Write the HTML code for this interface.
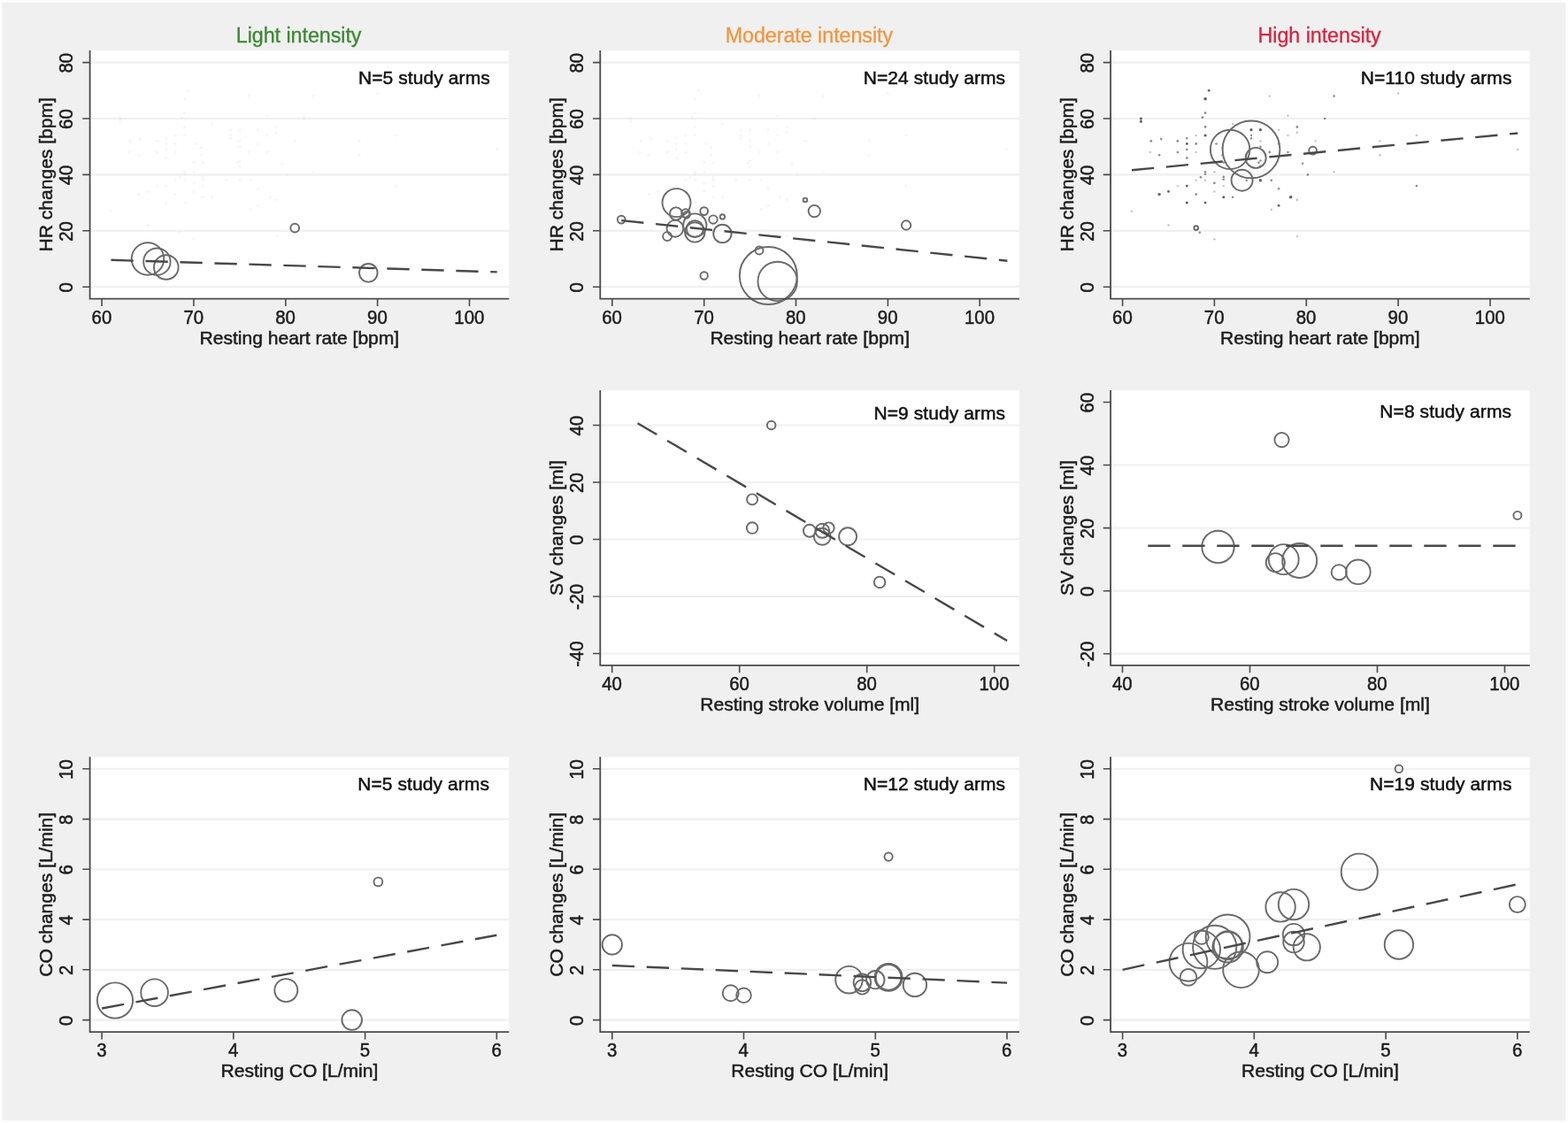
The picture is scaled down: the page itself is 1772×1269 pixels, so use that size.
<!DOCTYPE html>
<html lang="en">
<head>
<meta charset="utf-8">
<title>Resting values vs exercise-induced changes by intensity</title>
<style>
html,body{margin:0;padding:0;background:#fdfdfd;}
body{width:1772px;height:1269px;overflow:hidden;font-family:"Liberation Sans", Arial, Helvetica, sans-serif;}
svg{display:block;filter:blur(0.6px);}
svg text{font-family:"Liberation Sans", Arial, Helvetica, sans-serif;}
.pl{fill:#fff;}
.gr{fill:none;stroke:#f0f0f0;stroke-width:2.2;}
.gh circle{fill:#555;}
.dt circle{fill:#444;}
.bb circle{fill:none;stroke:#6a6a6a;stroke-width:1.9;}
.fit{stroke:#484848;stroke-width:2.4;stroke-dasharray:25.3 13.7;}
.ax{fill:none;stroke:#4a4a4a;stroke-width:1.8;}
.tm{fill:none;stroke:#4a4a4a;stroke-width:1.6;}
.tk{font-size:21.7px;text-anchor:middle;fill:#1c1c1c;stroke:#1c1c1c;stroke-width:0.5;}
.lb{font-size:21.1px;letter-spacing:-0.03px;text-anchor:middle;fill:#1c1c1c;stroke:#1c1c1c;stroke-width:0.5;}
.nt{font-size:21.0px;letter-spacing:0.08px;text-anchor:end;fill:#111;stroke:#111;stroke-width:0.5;}
.ti{font-size:23.3px;letter-spacing:-0.05px;text-anchor:middle;stroke-width:0.3;}
</style>
</head>
<body>
<svg width="1772" height="1269" viewBox="0 0 1772 1269" role="img" aria-label="Resting values versus exercise-induced changes by intensity">
<rect x="0" y="0" width="1772" height="1269" fill="#fdfdfd"/>
<rect x="2.4" y="2.7" width="1766.9" height="1263.5" fill="#f0f0f0"/>
<g>
<rect class="pl" x="101.6" y="57" width="473.7" height="280.6"/>
<path class="gr" d="M101.6 324.2H575.3M101.6 260.8H575.3M101.6 197.4H575.3M101.6 134H575.3M101.6 70.6H575.3"/>
<g class="gh" opacity="0.05">
<circle cx="135.9" cy="134" r="1.6"/><circle cx="135.9" cy="137.2" r="1.6"/><circle cx="212.7" cy="102.3" r="1.6"/><circle cx="208.6" cy="111.8" r="1.6"/><circle cx="208.6" cy="127.7" r="1.6"/><circle cx="205.4" cy="132.7" r="1.6"/><circle cx="208.6" cy="143.5" r="1.6"/><circle cx="208.6" cy="153" r="1.6"/><circle cx="198.2" cy="153" r="1.6"/><circle cx="187.8" cy="156.2" r="1.6"/><circle cx="187.8" cy="162.5" r="1.6"/><circle cx="187.8" cy="168.9" r="1.6"/><circle cx="187.8" cy="178.4" r="1.6"/><circle cx="198.2" cy="162.5" r="1.6"/><circle cx="198.2" cy="172" r="1.6"/><circle cx="177.4" cy="159.4" r="1.6"/><circle cx="177.4" cy="172" r="1.6"/><circle cx="158.7" cy="157.1" r="1.6"/><circle cx="147.3" cy="159.4" r="1.6"/><circle cx="146.3" cy="172" r="1.6"/><circle cx="156.6" cy="175.2" r="1.6"/><circle cx="281.3" cy="108.6" r="1.6"/><circle cx="302" cy="130.8" r="1.6"/><circle cx="312.4" cy="143.5" r="1.6"/><circle cx="312.4" cy="149.8" r="1.6"/><circle cx="302" cy="153" r="1.6"/><circle cx="291.6" cy="146.7" r="1.6"/><circle cx="291.6" cy="162.5" r="1.6"/><circle cx="260.5" cy="146.7" r="1.6"/><circle cx="270.9" cy="146.7" r="1.6"/><circle cx="260.5" cy="153" r="1.6"/><circle cx="260.5" cy="156.2" r="1.6"/><circle cx="270.9" cy="159.4" r="1.6"/><circle cx="270.9" cy="165.7" r="1.6"/><circle cx="281.3" cy="172" r="1.6"/><circle cx="302" cy="172" r="1.6"/><circle cx="239.7" cy="140.3" r="1.6"/><circle cx="221" cy="162.5" r="1.6"/><circle cx="227.3" cy="166.7" r="1.6"/><circle cx="227.3" cy="175.2" r="1.6"/><circle cx="229.3" cy="183.8" r="1.6"/><circle cx="218.9" cy="183.1" r="1.6"/><circle cx="268.8" cy="183.8" r="1.6"/><circle cx="270.9" cy="181.5" r="1.6"/><circle cx="270.9" cy="187.9" r="1.6"/><circle cx="318.6" cy="184.7" r="1.6"/><circle cx="324.4" cy="197.4" r="1.6"/><circle cx="208.6" cy="194.2" r="1.6"/><circle cx="208.6" cy="196.8" r="1.6"/><circle cx="218.9" cy="194.2" r="1.6"/><circle cx="203.4" cy="200.3" r="1.6"/><circle cx="198.2" cy="203.7" r="1.6"/><circle cx="208.6" cy="203.7" r="1.6"/><circle cx="218.9" cy="206.9" r="1.6"/><circle cx="229.3" cy="199.9" r="1.6"/><circle cx="229.3" cy="202.8" r="1.6"/><circle cx="229.3" cy="210.1" r="1.6"/><circle cx="255.3" cy="203.7" r="1.6"/><circle cx="270.9" cy="203.7" r="1.6"/><circle cx="283.3" cy="203.7" r="1.6"/><circle cx="177.4" cy="210.1" r="1.6"/><circle cx="187.8" cy="210.1" r="1.6"/><circle cx="291.6" cy="213.2" r="1.6"/><circle cx="156.6" cy="219.6" r="1.6"/><circle cx="167" cy="216.4" r="1.6"/><circle cx="198.2" cy="219.6" r="1.6"/><circle cx="218.9" cy="216.4" r="1.6"/><circle cx="229.3" cy="222.8" r="1.6"/><circle cx="239.7" cy="222.8" r="1.6"/><circle cx="187.8" cy="229.1" r="1.6"/><circle cx="208.6" cy="229.1" r="1.6"/><circle cx="305.1" cy="222.8" r="1.6"/><circle cx="312.4" cy="225.9" r="1.6"/><circle cx="291.6" cy="232.3" r="1.6"/><circle cx="283.3" cy="236.7" r="1.6"/><circle cx="125.5" cy="238.6" r="1.6"/><circle cx="167" cy="254.5" r="1.6"/><circle cx="202.3" cy="262.7" r="1.6"/><circle cx="218.9" cy="270.3" r="1.6"/><circle cx="312.4" cy="267.1" r="1.6"/><circle cx="354" cy="108.6" r="1.6"/><circle cx="426.6" cy="105.5" r="1.6"/><circle cx="343.6" cy="134" r="1.6"/><circle cx="333.2" cy="159.4" r="1.6"/><circle cx="405.9" cy="159.4" r="1.6"/><circle cx="405.9" cy="175.2" r="1.6"/><circle cx="447.4" cy="153" r="1.6"/><circle cx="561.7" cy="168.9" r="1.6"/><circle cx="354" cy="194.2" r="1.6"/><circle cx="447.4" cy="210.1" r="1.6"/>
</g>
<g class="bb">
<circle cx="167" cy="292.5" r="18.3"/>
<circle cx="177.4" cy="295.7" r="15.2"/>
<circle cx="187.8" cy="302" r="13.8"/>
<circle cx="333.2" cy="257.6" r="4.9"/>
<circle cx="416.3" cy="308.3" r="10.3"/>
</g>
<line class="fit" x1="125.5" y1="293.8" x2="561.7" y2="307.4"/>
<path class="ax" d="M101.6 57V337.6H575.3"/>
<path class="tm" d="M93.3 324.2H101.6M93.3 260.8H101.6M93.3 197.4H101.6M93.3 134H101.6M93.3 70.6H101.6M115.1 337.6v8.3M218.9 337.6v8.3M322.8 337.6v8.3M426.6 337.6v8.3M530.5 337.6v8.3"/>
<text class="tk" transform="translate(82.2 324.8) rotate(-90) scale(0.94 1)">0</text>
<text class="tk" transform="translate(82.2 261.4) rotate(-90) scale(0.94 1)">20</text>
<text class="tk" transform="translate(82.2 198) rotate(-90) scale(0.94 1)">40</text>
<text class="tk" transform="translate(82.2 134.6) rotate(-90) scale(0.94 1)">60</text>
<text class="tk" transform="translate(82.2 71.2) rotate(-90) scale(0.94 1)">80</text>
<text class="tk" transform="translate(114.9 365.8) scale(0.94 1)">60</text>
<text class="tk" transform="translate(218.8 365.8) scale(0.94 1)">70</text>
<text class="tk" transform="translate(322.6 365.8) scale(0.94 1)">80</text>
<text class="tk" transform="translate(426.4 365.8) scale(0.94 1)">90</text>
<text class="tk" transform="translate(530.3 365.8) scale(0.94 1)">100</text>
<text class="lb" x="338.4" y="388.8">Resting heart rate [bpm]</text>
<text class="lb" transform="translate(59.3 197.3) rotate(-90)">HR changes [bpm]</text>
<text class="nt" x="553.8" y="94.8">N=5 study arms</text>
<text class="ti" x="337.6" y="47.5" fill="#3a8830" stroke="#3a8830">Light intensity</text>
</g>
<g>
<rect class="pl" x="678.3" y="57" width="473.7" height="280.6"/>
<path class="gr" d="M678.3 324.2H1152M678.3 260.8H1152M678.3 197.4H1152M678.3 134H1152M678.3 70.6H1152"/>
<g class="gh" opacity="0.05">
<circle cx="712.6" cy="134" r="1.6"/><circle cx="712.6" cy="137.2" r="1.6"/><circle cx="789.4" cy="102.3" r="1.6"/><circle cx="785.3" cy="111.8" r="1.6"/><circle cx="785.3" cy="127.7" r="1.6"/><circle cx="782.1" cy="132.7" r="1.6"/><circle cx="785.3" cy="143.5" r="1.6"/><circle cx="785.3" cy="153" r="1.6"/><circle cx="774.9" cy="153" r="1.6"/><circle cx="764.5" cy="156.2" r="1.6"/><circle cx="764.5" cy="162.5" r="1.6"/><circle cx="764.5" cy="168.9" r="1.6"/><circle cx="764.5" cy="178.4" r="1.6"/><circle cx="774.9" cy="162.5" r="1.6"/><circle cx="774.9" cy="172" r="1.6"/><circle cx="754.1" cy="159.4" r="1.6"/><circle cx="754.1" cy="172" r="1.6"/><circle cx="735.4" cy="157.1" r="1.6"/><circle cx="724" cy="159.4" r="1.6"/><circle cx="723" cy="172" r="1.6"/><circle cx="733.3" cy="175.2" r="1.6"/><circle cx="858" cy="108.6" r="1.6"/><circle cx="878.7" cy="130.8" r="1.6"/><circle cx="889.1" cy="143.5" r="1.6"/><circle cx="889.1" cy="149.8" r="1.6"/><circle cx="878.7" cy="153" r="1.6"/><circle cx="868.3" cy="146.7" r="1.6"/><circle cx="868.3" cy="162.5" r="1.6"/><circle cx="837.2" cy="146.7" r="1.6"/><circle cx="847.6" cy="146.7" r="1.6"/><circle cx="837.2" cy="153" r="1.6"/><circle cx="837.2" cy="156.2" r="1.6"/><circle cx="847.6" cy="159.4" r="1.6"/><circle cx="847.6" cy="165.7" r="1.6"/><circle cx="858" cy="172" r="1.6"/><circle cx="878.7" cy="172" r="1.6"/><circle cx="816.4" cy="140.3" r="1.6"/><circle cx="797.7" cy="162.5" r="1.6"/><circle cx="804" cy="166.7" r="1.6"/><circle cx="804" cy="175.2" r="1.6"/><circle cx="806" cy="183.8" r="1.6"/><circle cx="795.7" cy="183.1" r="1.6"/><circle cx="845.5" cy="183.8" r="1.6"/><circle cx="847.6" cy="181.5" r="1.6"/><circle cx="847.6" cy="187.9" r="1.6"/><circle cx="895.3" cy="184.7" r="1.6"/><circle cx="901.1" cy="197.4" r="1.6"/><circle cx="785.3" cy="194.2" r="1.6"/><circle cx="785.3" cy="196.8" r="1.6"/><circle cx="795.7" cy="194.2" r="1.6"/><circle cx="780.1" cy="200.3" r="1.6"/><circle cx="774.9" cy="203.7" r="1.6"/><circle cx="785.3" cy="203.7" r="1.6"/><circle cx="795.7" cy="206.9" r="1.6"/><circle cx="806" cy="199.9" r="1.6"/><circle cx="806" cy="202.8" r="1.6"/><circle cx="806" cy="210.1" r="1.6"/><circle cx="832" cy="203.7" r="1.6"/><circle cx="847.6" cy="203.7" r="1.6"/><circle cx="860" cy="203.7" r="1.6"/><circle cx="754.1" cy="210.1" r="1.6"/><circle cx="764.5" cy="210.1" r="1.6"/><circle cx="868.3" cy="213.2" r="1.6"/><circle cx="733.3" cy="219.6" r="1.6"/><circle cx="743.7" cy="216.4" r="1.6"/><circle cx="774.9" cy="219.6" r="1.6"/><circle cx="795.7" cy="216.4" r="1.6"/><circle cx="806" cy="222.8" r="1.6"/><circle cx="816.4" cy="222.8" r="1.6"/><circle cx="764.5" cy="229.1" r="1.6"/><circle cx="785.3" cy="229.1" r="1.6"/><circle cx="881.8" cy="222.8" r="1.6"/><circle cx="889.1" cy="225.9" r="1.6"/><circle cx="868.3" cy="232.3" r="1.6"/><circle cx="860" cy="236.7" r="1.6"/><circle cx="702.2" cy="238.6" r="1.6"/><circle cx="743.7" cy="254.5" r="1.6"/><circle cx="779" cy="262.7" r="1.6"/><circle cx="795.7" cy="270.3" r="1.6"/><circle cx="889.1" cy="267.1" r="1.6"/><circle cx="930.7" cy="108.6" r="1.6"/><circle cx="1003.4" cy="105.5" r="1.6"/><circle cx="920.3" cy="134" r="1.6"/><circle cx="909.9" cy="159.4" r="1.6"/><circle cx="982.6" cy="159.4" r="1.6"/><circle cx="982.6" cy="175.2" r="1.6"/><circle cx="1024.1" cy="153" r="1.6"/><circle cx="1138.4" cy="168.9" r="1.6"/><circle cx="930.7" cy="194.2" r="1.6"/><circle cx="1024.1" cy="210.1" r="1.6"/>
</g>
<g class="bb">
<circle cx="702.2" cy="248.1" r="4.4"/>
<circle cx="764.5" cy="229.1" r="16"/>
<circle cx="764" cy="241.5" r="7.1"/>
<circle cx="774.9" cy="241.1" r="4.8"/>
<circle cx="775.9" cy="243" r="3.8"/>
<circle cx="795.7" cy="238.6" r="4.4"/>
<circle cx="806" cy="248.1" r="4.7"/>
<circle cx="816.4" cy="244.9" r="2.7"/>
<circle cx="762.9" cy="258.3" r="9.4"/>
<circle cx="754.1" cy="267.1" r="5"/>
<circle cx="785.3" cy="254.5" r="13.1"/>
<circle cx="785.3" cy="262.4" r="11.2"/>
<circle cx="785.3" cy="258.6" r="9.5"/>
<circle cx="816.4" cy="264" r="10.2"/>
<circle cx="858" cy="283" r="4.5"/>
<circle cx="795.7" cy="311.5" r="4.2"/>
<circle cx="868.3" cy="311.5" r="32.5"/>
<circle cx="878.7" cy="317.9" r="22.2"/>
<circle cx="909.9" cy="225.9" r="2.3"/>
<circle cx="920.3" cy="238.6" r="6.7"/>
<circle cx="1024.1" cy="254.5" r="5.2"/>
</g>
<line class="fit" x1="702.2" y1="249.1" x2="1138.4" y2="294.7"/>
<path class="ax" d="M678.3 57V337.6H1152"/>
<path class="tm" d="M670 324.2H678.3M670 260.8H678.3M670 197.4H678.3M670 134H678.3M670 70.6H678.3M691.8 337.6v8.3M795.7 337.6v8.3M899.5 337.6v8.3M1003.4 337.6v8.3M1107.2 337.6v8.3"/>
<text class="tk" transform="translate(658.9 324.8) rotate(-90) scale(0.94 1)">0</text>
<text class="tk" transform="translate(658.9 261.4) rotate(-90) scale(0.94 1)">20</text>
<text class="tk" transform="translate(658.9 198) rotate(-90) scale(0.94 1)">40</text>
<text class="tk" transform="translate(658.9 134.6) rotate(-90) scale(0.94 1)">60</text>
<text class="tk" transform="translate(658.9 71.2) rotate(-90) scale(0.94 1)">80</text>
<text class="tk" transform="translate(691.6 365.8) scale(0.94 1)">60</text>
<text class="tk" transform="translate(795.5 365.8) scale(0.94 1)">70</text>
<text class="tk" transform="translate(899.3 365.8) scale(0.94 1)">80</text>
<text class="tk" transform="translate(1003.2 365.8) scale(0.94 1)">90</text>
<text class="tk" transform="translate(1107 365.8) scale(0.94 1)">100</text>
<text class="lb" x="915.2" y="388.8">Resting heart rate [bpm]</text>
<text class="lb" transform="translate(636 197.3) rotate(-90)">HR changes [bpm]</text>
<text class="nt" x="1136.2" y="94.8">N=24 study arms</text>
<text class="ti" x="914.4" y="47.5" fill="#f1963f" stroke="#f1963f">Moderate intensity</text>
</g>
<g>
<rect class="pl" x="1255.1" y="57" width="473.7" height="280.6"/>
<path class="gr" d="M1255.1 324.2H1728.8M1255.1 260.8H1728.8M1255.1 197.4H1728.8M1255.1 134H1728.8M1255.1 70.6H1728.8"/>
<g class="dt">
<circle cx="1289.4" cy="134" r="1.5" fill-opacity="0.85"/>
<circle cx="1289.4" cy="137.2" r="1.5" fill-opacity="0.85"/>
<circle cx="1366.2" cy="102.3" r="1.4" fill-opacity="0.85"/>
<circle cx="1362.1" cy="111.8" r="1.8" fill-opacity="0.85"/>
<circle cx="1362.1" cy="127.7" r="1.4" fill-opacity="0.6"/>
<circle cx="1358.9" cy="132.7" r="1.4" fill-opacity="0.6"/>
<circle cx="1362.1" cy="143.5" r="1.4" fill-opacity="0.6"/>
<circle cx="1362.1" cy="153" r="1.6" fill-opacity="0.85"/>
<circle cx="1351.7" cy="153" r="1.2" fill-opacity="0.32"/>
<circle cx="1341.3" cy="156.2" r="1.3" fill-opacity="0.6"/>
<circle cx="1341.3" cy="162.5" r="1.4" fill-opacity="0.85"/>
<circle cx="1341.3" cy="168.9" r="1.3" fill-opacity="0.6"/>
<circle cx="1341.3" cy="178.4" r="1.4" fill-opacity="0.6"/>
<circle cx="1351.7" cy="162.5" r="1.4" fill-opacity="0.6"/>
<circle cx="1351.7" cy="172" r="1.2" fill-opacity="0.32"/>
<circle cx="1330.9" cy="159.4" r="1.4" fill-opacity="0.6"/>
<circle cx="1330.9" cy="172" r="1.3" fill-opacity="0.6"/>
<circle cx="1312.2" cy="157.1" r="1.3" fill-opacity="0.6"/>
<circle cx="1300.8" cy="159.4" r="1.4" fill-opacity="0.6"/>
<circle cx="1299.8" cy="172" r="1.2" fill-opacity="0.32"/>
<circle cx="1310.1" cy="175.2" r="1.3" fill-opacity="0.6"/>
<circle cx="1434.8" cy="108.6" r="1.2" fill-opacity="0.32"/>
<circle cx="1455.5" cy="130.8" r="1.2" fill-opacity="0.32"/>
<circle cx="1465.9" cy="143.5" r="1.4" fill-opacity="0.6"/>
<circle cx="1465.9" cy="149.8" r="1.2" fill-opacity="0.32"/>
<circle cx="1455.5" cy="153" r="1.2" fill-opacity="0.32"/>
<circle cx="1445.1" cy="146.7" r="1.2" fill-opacity="0.32"/>
<circle cx="1445.1" cy="162.5" r="1.3" fill-opacity="0.6"/>
<circle cx="1414" cy="146.7" r="1.6" fill-opacity="0.85"/>
<circle cx="1424.4" cy="146.7" r="1.6" fill-opacity="0.85"/>
<circle cx="1414" cy="153" r="1.2" fill-opacity="0.6"/>
<circle cx="1414" cy="156.2" r="1.2" fill-opacity="0.6"/>
<circle cx="1424.4" cy="159.4" r="1.2" fill-opacity="0.32"/>
<circle cx="1424.4" cy="165.7" r="1.3" fill-opacity="0.6"/>
<circle cx="1434.8" cy="172" r="1.4" fill-opacity="0.6"/>
<circle cx="1455.5" cy="172" r="1.3" fill-opacity="0.6"/>
<circle cx="1393.2" cy="140.3" r="1.2" fill-opacity="0.32"/>
<circle cx="1374.5" cy="162.5" r="1.3" fill-opacity="0.6"/>
<circle cx="1380.8" cy="166.7" r="1.2" fill-opacity="0.32"/>
<circle cx="1380.8" cy="175.2" r="1.2" fill-opacity="0.32"/>
<circle cx="1382.8" cy="183.8" r="1.3" fill-opacity="0.6"/>
<circle cx="1372.4" cy="183.1" r="1.3" fill-opacity="0.6"/>
<circle cx="1422.3" cy="183.8" r="1.3" fill-opacity="0.6"/>
<circle cx="1424.4" cy="181.5" r="1.2" fill-opacity="0.6"/>
<circle cx="1424.4" cy="187.9" r="1.3" fill-opacity="0.6"/>
<circle cx="1472.1" cy="184.7" r="1.3" fill-opacity="0.6"/>
<circle cx="1477.9" cy="197.4" r="1.3" fill-opacity="0.6"/>
<circle cx="1362.1" cy="194.2" r="1.3" fill-opacity="0.6"/>
<circle cx="1362.1" cy="196.8" r="1.3" fill-opacity="0.6"/>
<circle cx="1372.4" cy="194.2" r="1.2" fill-opacity="0.32"/>
<circle cx="1356.9" cy="200.3" r="1.3" fill-opacity="0.6"/>
<circle cx="1351.7" cy="203.7" r="1.2" fill-opacity="0.32"/>
<circle cx="1362.1" cy="203.7" r="1.2" fill-opacity="0.32"/>
<circle cx="1372.4" cy="206.9" r="1.4" fill-opacity="0.6"/>
<circle cx="1382.8" cy="199.9" r="1.3" fill-opacity="0.6"/>
<circle cx="1382.8" cy="202.8" r="1.3" fill-opacity="0.6"/>
<circle cx="1382.8" cy="210.1" r="1.2" fill-opacity="0.32"/>
<circle cx="1408.8" cy="203.7" r="1.3" fill-opacity="0.6"/>
<circle cx="1424.4" cy="203.7" r="1.7" fill-opacity="0.85"/>
<circle cx="1436.8" cy="203.7" r="1.3" fill-opacity="0.6"/>
<circle cx="1330.9" cy="210.1" r="1.2" fill-opacity="0.32"/>
<circle cx="1341.3" cy="210.1" r="1.4" fill-opacity="0.85"/>
<circle cx="1445.1" cy="213.2" r="1.3" fill-opacity="0.6"/>
<circle cx="1310.1" cy="219.6" r="1.7" fill-opacity="0.85"/>
<circle cx="1320.5" cy="216.4" r="1.4" fill-opacity="0.85"/>
<circle cx="1351.7" cy="219.6" r="1.4" fill-opacity="0.6"/>
<circle cx="1372.4" cy="216.4" r="1.2" fill-opacity="0.32"/>
<circle cx="1382.8" cy="222.8" r="1.5" fill-opacity="0.85"/>
<circle cx="1393.2" cy="222.8" r="1.3" fill-opacity="0.6"/>
<circle cx="1341.3" cy="229.1" r="1.5" fill-opacity="0.85"/>
<circle cx="1362.1" cy="229.1" r="1.4" fill-opacity="0.85"/>
<circle cx="1458.6" cy="222.8" r="1.8" fill-opacity="0.85"/>
<circle cx="1465.9" cy="225.9" r="1.3" fill-opacity="0.32"/>
<circle cx="1445.1" cy="232.3" r="1.4" fill-opacity="0.85"/>
<circle cx="1436.8" cy="236.7" r="1.2" fill-opacity="0.32"/>
<circle cx="1279" cy="238.6" r="1.2" fill-opacity="0.32"/>
<circle cx="1320.5" cy="254.5" r="1.2" fill-opacity="0.32"/>
<circle cx="1355.8" cy="262.7" r="1.3" fill-opacity="0.6"/>
<circle cx="1372.4" cy="270.3" r="1.2" fill-opacity="0.32"/>
<circle cx="1465.9" cy="267.1" r="1.2" fill-opacity="0.32"/>
<circle cx="1507.5" cy="108.6" r="1.3" fill-opacity="0.6"/>
<circle cx="1580.1" cy="105.5" r="1.2" fill-opacity="0.32"/>
<circle cx="1497.1" cy="134" r="1.3" fill-opacity="0.6"/>
<circle cx="1486.7" cy="159.4" r="1.1" fill-opacity="0.32"/>
<circle cx="1559.4" cy="159.4" r="1.2" fill-opacity="0.32"/>
<circle cx="1559.4" cy="175.2" r="1.2" fill-opacity="0.32"/>
<circle cx="1600.9" cy="153" r="1.2" fill-opacity="0.32"/>
<circle cx="1715.2" cy="168.9" r="1.2" fill-opacity="0.32"/>
<circle cx="1507.5" cy="194.2" r="1.2" fill-opacity="0.32"/>
<circle cx="1600.9" cy="210.1" r="1.3" fill-opacity="0.6"/>
</g>
<g class="bb">
<circle cx="1414" cy="168.9" r="32.4"/>
<circle cx="1390.1" cy="168.9" r="22.2"/>
<circle cx="1419.2" cy="178.4" r="11.5"/>
<circle cx="1403.6" cy="203.7" r="12"/>
<circle cx="1483.6" cy="170.1" r="4.4"/>
<circle cx="1351.7" cy="257.6" r="2.4" stroke-width="1.3"/>
</g>
<line class="fit" x1="1279" y1="192.3" x2="1715.2" y2="150.5"/>
<path class="ax" d="M1255.1 57V337.6H1728.8"/>
<path class="tm" d="M1246.8 324.2H1255.1M1246.8 260.8H1255.1M1246.8 197.4H1255.1M1246.8 134H1255.1M1246.8 70.6H1255.1M1268.6 337.6v8.3M1372.4 337.6v8.3M1476.3 337.6v8.3M1580.1 337.6v8.3M1684 337.6v8.3"/>
<text class="tk" transform="translate(1235.7 324.8) rotate(-90) scale(0.94 1)">0</text>
<text class="tk" transform="translate(1235.7 261.4) rotate(-90) scale(0.94 1)">20</text>
<text class="tk" transform="translate(1235.7 198) rotate(-90) scale(0.94 1)">40</text>
<text class="tk" transform="translate(1235.7 134.6) rotate(-90) scale(0.94 1)">60</text>
<text class="tk" transform="translate(1235.7 71.2) rotate(-90) scale(0.94 1)">80</text>
<text class="tk" transform="translate(1268.4 365.8) scale(0.94 1)">60</text>
<text class="tk" transform="translate(1372.2 365.8) scale(0.94 1)">70</text>
<text class="tk" transform="translate(1476.1 365.8) scale(0.94 1)">80</text>
<text class="tk" transform="translate(1579.9 365.8) scale(0.94 1)">90</text>
<text class="tk" transform="translate(1683.8 365.8) scale(0.94 1)">100</text>
<text class="lb" x="1491.9" y="388.8">Resting heart rate [bpm]</text>
<text class="lb" transform="translate(1212.8 197.3) rotate(-90)">HR changes [bpm]</text>
<text class="nt" x="1708.5" y="94.8">N=110 study arms</text>
<text class="ti" x="1491.1" y="47.5" fill="#d9233f" stroke="#d9233f">High intensity</text>
</g>
<g>
<rect class="pl" x="678.3" y="441" width="473.7" height="310.9"/>
<path class="gr" d="M678.3 738.5H1152M678.3 674H1152M678.3 609.5H1152M678.3 545H1152M678.3 480.5H1152"/>
<g class="bb">
<circle cx="871.7" cy="480.5" r="4.8"/>
<circle cx="850.1" cy="564.4" r="6"/>
<circle cx="850.1" cy="596.6" r="6.3"/>
<circle cx="914.9" cy="599.8" r="7"/>
<circle cx="929.3" cy="599.8" r="8"/>
<circle cx="929.3" cy="606.3" r="9.5"/>
<circle cx="936.5" cy="596.6" r="6.2"/>
<circle cx="958.1" cy="606.3" r="10"/>
<circle cx="994.1" cy="657.9" r="6.3"/>
</g>
<line class="fit" x1="720.5" y1="478.2" x2="1138.1" y2="724"/>
<path class="ax" d="M678.3 441V751.9H1152"/>
<path class="tm" d="M670 738.5H678.3M670 674H678.3M670 609.5H678.3M670 545H678.3M670 480.5H678.3M691.7 751.9v8.3M835.7 751.9v8.3M979.7 751.9v8.3M1123.7 751.9v8.3"/>
<text class="tk" transform="translate(658.9 739.1) rotate(-90) scale(0.94 1)">-40</text>
<text class="tk" transform="translate(658.9 674.6) rotate(-90) scale(0.94 1)">-20</text>
<text class="tk" transform="translate(658.9 610.1) rotate(-90) scale(0.94 1)">0</text>
<text class="tk" transform="translate(658.9 545.6) rotate(-90) scale(0.94 1)">20</text>
<text class="tk" transform="translate(658.9 481.1) rotate(-90) scale(0.94 1)">40</text>
<text class="tk" transform="translate(691.5 780.1) scale(0.94 1)">40</text>
<text class="tk" transform="translate(835.5 780.1) scale(0.94 1)">60</text>
<text class="tk" transform="translate(979.5 780.1) scale(0.94 1)">80</text>
<text class="tk" transform="translate(1123.5 780.1) scale(0.94 1)">100</text>
<text class="lb" x="915.2" y="803.1">Resting stroke volume [ml]</text>
<text class="lb" transform="translate(636 596.5) rotate(-90)">SV changes [ml]</text>
<text class="nt" x="1136.2" y="473.5">N=9 study arms</text>
</g>
<g>
<rect class="pl" x="1255.1" y="441" width="473.7" height="310.9"/>
<path class="gr" d="M1255.1 738.7H1728.8M1255.1 667.7H1728.8M1255.1 596.6H1728.8M1255.1 525.5H1728.8"/>
<g class="bb">
<circle cx="1448.5" cy="497.1" r="8.1"/>
<circle cx="1376.5" cy="617.9" r="18.2"/>
<circle cx="1441.3" cy="635.7" r="10.6"/>
<circle cx="1450.7" cy="632.1" r="17"/>
<circle cx="1468.7" cy="633.5" r="19.5"/>
<circle cx="1513.3" cy="646.7" r="8.6"/>
<circle cx="1534.9" cy="646.3" r="13.8"/>
<circle cx="1714.9" cy="582.4" r="4.5"/>
</g>
<line class="fit" x1="1297.3" y1="616.8" x2="1714.9" y2="616.8"/>
<path class="ax" d="M1255.1 441V751.9H1728.8"/>
<path class="tm" d="M1246.8 738.7H1255.1M1246.8 667.7H1255.1M1246.8 596.6H1255.1M1246.8 525.5H1255.1M1246.8 454.5H1255.1M1268.5 751.9v8.3M1412.5 751.9v8.3M1556.5 751.9v8.3M1700.5 751.9v8.3"/>
<text class="tk" transform="translate(1235.7 739.3) rotate(-90) scale(0.94 1)">-20</text>
<text class="tk" transform="translate(1235.7 668.3) rotate(-90) scale(0.94 1)">0</text>
<text class="tk" transform="translate(1235.7 597.2) rotate(-90) scale(0.94 1)">20</text>
<text class="tk" transform="translate(1235.7 526.1) rotate(-90) scale(0.94 1)">40</text>
<text class="tk" transform="translate(1235.7 455.1) rotate(-90) scale(0.94 1)">60</text>
<text class="tk" transform="translate(1268.3 780.1) scale(0.94 1)">40</text>
<text class="tk" transform="translate(1412.3 780.1) scale(0.94 1)">60</text>
<text class="tk" transform="translate(1556.3 780.1) scale(0.94 1)">80</text>
<text class="tk" transform="translate(1700.3 780.1) scale(0.94 1)">100</text>
<text class="lb" x="1491.9" y="803.1">Resting stroke volume [ml]</text>
<text class="lb" transform="translate(1212.8 596.5) rotate(-90)">SV changes [ml]</text>
<text class="nt" x="1708.1" y="472">N=8 study arms</text>
</g>
<g>
<rect class="pl" x="101.6" y="855.3" width="473.7" height="310.9"/>
<path class="gr" d="M101.6 1152.6H575.3M101.6 1095.8H575.3M101.6 1039.1H575.3M101.6 982.3H575.3M101.6 925.6H575.3M101.6 868.8H575.3"/>
<g class="bb">
<circle cx="130" cy="1130.5" r="20.1"/>
<circle cx="174.6" cy="1121.7" r="15.3"/>
<circle cx="323.3" cy="1119.1" r="13"/>
<circle cx="397.7" cy="1152.6" r="11.3"/>
<circle cx="427.4" cy="996.5" r="4.9"/>
</g>
<line class="fit" x1="115.1" y1="1139.5" x2="561.3" y2="1056.7"/>
<path class="ax" d="M101.6 855.3V1166.2H575.3"/>
<path class="tm" d="M93.3 1152.6H101.6M93.3 1095.8H101.6M93.3 1039.1H101.6M93.3 982.3H101.6M93.3 925.6H101.6M93.3 868.8H101.6M115.1 1166.2v8.3M263.8 1166.2v8.3M412.6 1166.2v8.3M561.3 1166.2v8.3"/>
<text class="tk" transform="translate(82.2 1153.2) rotate(-90) scale(0.94 1)">0</text>
<text class="tk" transform="translate(82.2 1096.4) rotate(-90) scale(0.94 1)">2</text>
<text class="tk" transform="translate(82.2 1039.7) rotate(-90) scale(0.94 1)">4</text>
<text class="tk" transform="translate(82.2 982.9) rotate(-90) scale(0.94 1)">6</text>
<text class="tk" transform="translate(82.2 926.2) rotate(-90) scale(0.94 1)">8</text>
<text class="tk" transform="translate(82.2 869.4) rotate(-90) scale(0.94 1)">10</text>
<text class="tk" transform="translate(114.9 1194.4) scale(0.94 1)">3</text>
<text class="tk" transform="translate(263.6 1194.4) scale(0.94 1)">4</text>
<text class="tk" transform="translate(412.4 1194.4) scale(0.94 1)">5</text>
<text class="tk" transform="translate(561.1 1194.4) scale(0.94 1)">6</text>
<text class="lb" x="338.4" y="1217.4">Resting CO [L/min]</text>
<text class="lb" transform="translate(59.3 1010.8) rotate(-90)">CO changes [L/min]</text>
<text class="nt" x="553" y="893.2">N=5 study arms</text>
</g>
<g>
<rect class="pl" x="678.3" y="855.3" width="473.7" height="310.9"/>
<path class="gr" d="M678.3 1152.6H1152M678.3 1095.8H1152M678.3 1039.1H1152M678.3 982.3H1152M678.3 925.6H1152M678.3 868.8H1152"/>
<g class="bb">
<circle cx="691.8" cy="1067.5" r="11.2"/>
<circle cx="825.7" cy="1122.2" r="9"/>
<circle cx="840.5" cy="1124.8" r="8.3"/>
<circle cx="959.5" cy="1107.2" r="15.3"/>
<circle cx="974.4" cy="1110.3" r="9.8"/>
<circle cx="974.4" cy="1115.4" r="8.2"/>
<circle cx="989.3" cy="1107.2" r="10.2"/>
<circle cx="1004.1" cy="1104.4" r="14.3"/>
<circle cx="1004.1" cy="1104.4" r="15.5"/>
<circle cx="1033.9" cy="1112.9" r="13.2"/>
<circle cx="1004.1" cy="968.1" r="4.6"/>
<circle cx="1004.1" cy="1104.4" r="14.9"/>
</g>
<line class="fit" x1="691.8" y1="1091" x2="1138" y2="1110.6"/>
<path class="ax" d="M678.3 855.3V1166.2H1152"/>
<path class="tm" d="M670 1152.6H678.3M670 1095.8H678.3M670 1039.1H678.3M670 982.3H678.3M670 925.6H678.3M670 868.8H678.3M691.8 1166.2v8.3M840.5 1166.2v8.3M989.3 1166.2v8.3M1138 1166.2v8.3"/>
<text class="tk" transform="translate(658.9 1153.2) rotate(-90) scale(0.94 1)">0</text>
<text class="tk" transform="translate(658.9 1096.4) rotate(-90) scale(0.94 1)">2</text>
<text class="tk" transform="translate(658.9 1039.7) rotate(-90) scale(0.94 1)">4</text>
<text class="tk" transform="translate(658.9 982.9) rotate(-90) scale(0.94 1)">6</text>
<text class="tk" transform="translate(658.9 926.2) rotate(-90) scale(0.94 1)">8</text>
<text class="tk" transform="translate(658.9 869.4) rotate(-90) scale(0.94 1)">10</text>
<text class="tk" transform="translate(691.6 1194.4) scale(0.94 1)">3</text>
<text class="tk" transform="translate(840.3 1194.4) scale(0.94 1)">4</text>
<text class="tk" transform="translate(989.1 1194.4) scale(0.94 1)">5</text>
<text class="tk" transform="translate(1137.8 1194.4) scale(0.94 1)">6</text>
<text class="lb" x="915.2" y="1217.4">Resting CO [L/min]</text>
<text class="lb" transform="translate(636 1010.8) rotate(-90)">CO changes [L/min]</text>
<text class="nt" x="1136.2" y="893.2">N=12 study arms</text>
</g>
<g>
<rect class="pl" x="1255.1" y="855.3" width="473.7" height="310.9"/>
<path class="gr" d="M1255.1 1152.6H1728.8M1255.1 1095.8H1728.8M1255.1 1039.1H1728.8M1255.1 982.3H1728.8M1255.1 925.6H1728.8M1255.1 868.8H1728.8"/>
<g class="bb">
<circle cx="1536.3" cy="985.2" r="20.6"/>
<circle cx="1447.1" cy="1024.9" r="16.7"/>
<circle cx="1462" cy="1022.1" r="17.2"/>
<circle cx="1387.6" cy="1058.4" r="24.9"/>
<circle cx="1372.7" cy="1070.3" r="24.6"/>
<circle cx="1357.8" cy="1073.1" r="21.2"/>
<circle cx="1357.8" cy="1058.9" r="8"/>
<circle cx="1343" cy="1087.3" r="21.4"/>
<circle cx="1343" cy="1104.4" r="9.4"/>
<circle cx="1387.6" cy="1070.3" r="17.2"/>
<circle cx="1387.6" cy="1068.3" r="16"/>
<circle cx="1402.5" cy="1095.8" r="20.3"/>
<circle cx="1432.2" cy="1087.3" r="12"/>
<circle cx="1462" cy="1056.1" r="12.2"/>
<circle cx="1462" cy="1064.6" r="11.8"/>
<circle cx="1476.8" cy="1070.3" r="15.1"/>
<circle cx="1580.9" cy="1067.5" r="16.2"/>
<circle cx="1714.8" cy="1022.1" r="9"/>
<circle cx="1580.9" cy="868.8" r="4.3"/>
</g>
<line class="fit" x1="1268.6" y1="1095.8" x2="1714.8" y2="999.3"/>
<path class="ax" d="M1255.1 855.3V1166.2H1728.8"/>
<path class="tm" d="M1246.8 1152.6H1255.1M1246.8 1095.8H1255.1M1246.8 1039.1H1255.1M1246.8 982.3H1255.1M1246.8 925.6H1255.1M1246.8 868.8H1255.1M1268.6 1166.2v8.3M1417.3 1166.2v8.3M1566.1 1166.2v8.3M1714.8 1166.2v8.3"/>
<text class="tk" transform="translate(1235.7 1153.2) rotate(-90) scale(0.94 1)">0</text>
<text class="tk" transform="translate(1235.7 1096.4) rotate(-90) scale(0.94 1)">2</text>
<text class="tk" transform="translate(1235.7 1039.7) rotate(-90) scale(0.94 1)">4</text>
<text class="tk" transform="translate(1235.7 982.9) rotate(-90) scale(0.94 1)">6</text>
<text class="tk" transform="translate(1235.7 926.2) rotate(-90) scale(0.94 1)">8</text>
<text class="tk" transform="translate(1235.7 869.4) rotate(-90) scale(0.94 1)">10</text>
<text class="tk" transform="translate(1268.4 1194.4) scale(0.94 1)">3</text>
<text class="tk" transform="translate(1417.1 1194.4) scale(0.94 1)">4</text>
<text class="tk" transform="translate(1565.9 1194.4) scale(0.94 1)">5</text>
<text class="tk" transform="translate(1714.6 1194.4) scale(0.94 1)">6</text>
<text class="lb" x="1491.9" y="1217.4">Resting CO [L/min]</text>
<text class="lb" transform="translate(1212.8 1010.8) rotate(-90)">CO changes [L/min]</text>
<text class="nt" x="1708.5" y="893.2">N=19 study arms</text>
</g>
</svg>
</body>
</html>
